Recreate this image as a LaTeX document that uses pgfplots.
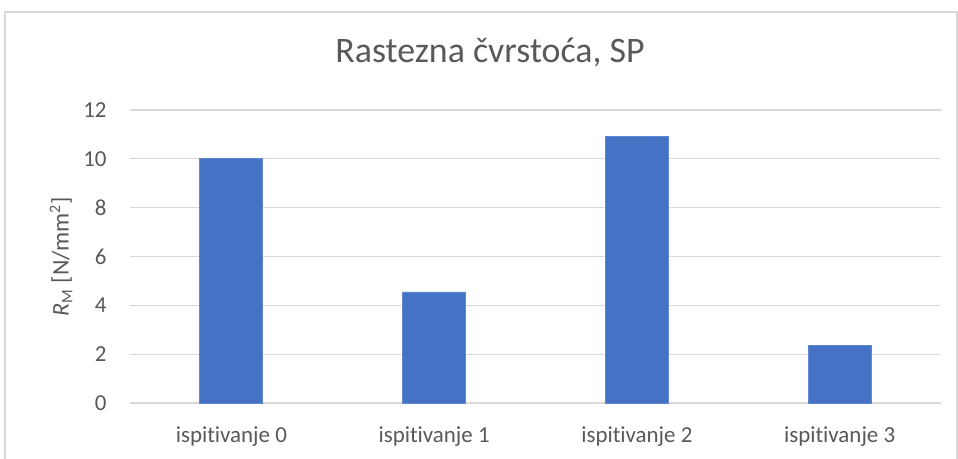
\documentclass[border=0pt]{standalone}
\usepackage{pgfplots}
\pgfplotsset{compat=1.18}
\usepackage{fontspec}
\setmainfont[Ligatures=NoCommon]{Carlito}
\definecolor{txt}{HTML}{595959}
\definecolor{bar}{HTML}{4472C4}
\definecolor{grd}{HTML}{D9D9D9}
\begin{document}
\begin{tikzpicture}
\useasboundingbox (-65bp,-28bp) rectangle (414bp,201.5bp);
\fill[white] (-65bp,-28bp) rectangle (414bp,201.5bp);
\draw[grd, line width=0.6bp] (-62.5bp,-30bp) -- (-62.5bp,195.5bp) -- (413.5bp,195.5bp) -- (413.5bp,-30bp);
\begin{axis}[
  at={(0,0)}, anchor=south west,
  scale only axis,
  width=405.5bp, height=146.5bp,
  xmin=-0.5, xmax=3.5,
  ymin=0, ymax=12,
  ytick={0,2,...,12},
  xtick={0,1,2,3},
  xticklabels={ispitivanje 0, ispitivanje 1, ispitivanje 2, ispitivanje 3},
  axis line style={draw=none},
  major tick length=0pt,
  ymajorgrids,
  grid style={grd, line width=0.6bp},
  /pgf/number format/assume math mode=true,
  yticklabel style={font=\fontsize{11.5}{13}\selectfont, text=txt, inner sep=0pt, anchor=east, xshift=-11.5bp},
  xticklabel style={font=\fontsize{11.5}{13}\selectfont, text=txt, inner sep=0pt, anchor=base, yshift=-19.6bp},
  clip=false,
]
\addplot[ybar, bar width=31.5bp, fill=bar, draw=bar!85!white, line width=0.4bp] coordinates {(0,10.0) (1,4.55) (2,10.93) (3,2.35)};
\end{axis}
\node[text=txt, font=\fontsize{18}{20}\selectfont, anchor=base, inner sep=0pt] at (180bp,170bp) {Rastezna čvrstoća, SP};
\node[text=txt, font=\fontsize{12}{14}\selectfont, rotate=90, anchor=center, inner sep=0pt] at (-34.5bp,73.25bp) {\textit{R}\textsubscript{M} [N/mm\textsuperscript{2}]};
\end{tikzpicture}
\end{document}
